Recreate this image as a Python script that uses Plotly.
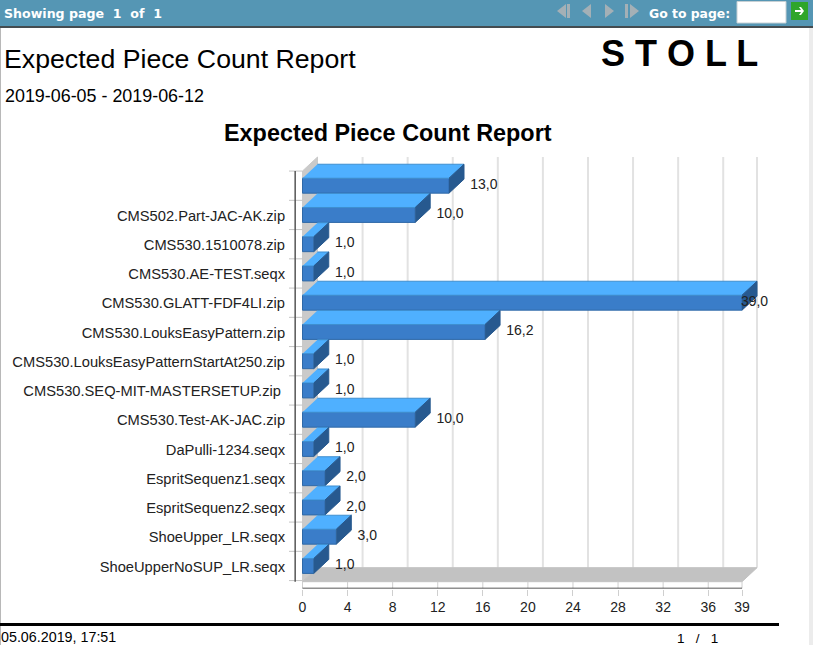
import plotly.graph_objects as go

categories = ["", "CMS502.Part-JAC-AK.zip", "CMS530.1510078.zip", "CMS530.AE-TEST.seqx",
              "CMS530.GLATT-FDF4LI.zip", "CMS530.LouksEasyPattern.zip",
              "CMS530.LouksEasyPatternStartAt250.zip", "CMS530.SEQ-MIT-MASTERSETUP.zip ",
              "CMS530.Test-AK-JAC.zip", "DaPulli-1234.seqx", "EspritSequenz1.seqx",
              "EspritSequenz2.seqx", "ShoeUpper_LR.seqx", "ShoeUpperNoSUP_LR.seqx"]
values = [13.0, 10.0, 1.0, 1.0, 39.0, 16.2, 1.0, 1.0, 10.0, 1.0, 2.0, 2.0, 3.0, 1.0]
labels = ["13,0", "10,0", "1,0", "1,0", "39,0", "16,2", "1,0", "1,0", "10,0", "1,0", "2,0", "2,0", "3,0", "1,0"]
x_ticks = [0, 4, 8, 12, 16, 20, 24, 28, 32, 36, 39]

W, H = 813, 645
X0, PXU = 302.5, 11.27      # pixel of value 0, pixels per unit
Y0, PYU = 185.7, 29.25      # pixel of row 0, pixels per row
L, T, B = 289, 150, 588.5   # plot-area box
DX, DY = 15 / PXU, 14 / PYU # 3D depth in axis units
BH = 0.51
XMAX = 39
rows = list(range(len(values)))
row_top = -0.5
row_bot = len(values) - 0.5
floor_y = (581.7 - Y0) / PYU
wall_top = floor_y - (581.7 - 157) / PYU

GREY_WALL, GREY_FLOOR, GRID = "#cacaca", "#c2c2c2", "#e2e2e2"
FRONT, FRONT_LINE, TOP, SIDE = "#3a7dc9", "#2f69a8", "#4fb0ff", "#27598f"
FONT = "Liberation Sans"
HEADER_FONT = "DejaVu Sans"

fig = go.Figure()
shapes = []

def data_path(xs, ys, fill=None, color=None, width=1):
    d = "M " + " L ".join(f"{x:.4f},{y:.4f}" for x, y in zip(xs, ys))
    if fill:
        d += " Z"
    shapes.append(dict(type="path", xref="x", yref="y", path=d, fillcolor=fill, layer="below",
                       line=dict(color=color or fill, width=width)))

def poly(xs, ys, fill, line=None):
    fig.add_trace(go.Scatter(x=xs, y=ys, mode="lines", fill="toself", fillcolor=fill,
                             line=dict(color=line or fill, width=1), hoverinfo="skip", showlegend=False))

def lines(xs, ys, color, width):
    fig.add_trace(go.Scatter(x=xs, y=ys, mode="lines", line=dict(color=color, width=width),
                             hoverinfo="skip", showlegend=False, cliponaxis=False))

# left wall, back-wall grid and floor sit beneath every bar
data_path([0, DX, DX, 0], [floor_y, floor_y - DY, wall_top, wall_top + DY], GREY_WALL)
for t in x_ticks[1:]:
    data_path([t + DX, t + DX], [floor_y - DY, wall_top], color=GRID, width=2)
data_path([0, XMAX, XMAX + DX, DX], [floor_y, floor_y, floor_y - DY, floor_y - DY], GREY_FLOOR)

# bars
fig.add_trace(go.Bar(x=values, y=rows, orientation="h", width=BH,
                     marker=dict(color=FRONT, line=dict(color=FRONT_LINE, width=1)),
                     hoverinfo="skip", showlegend=False))
for r, v in zip(rows, values):
    top_y = r - BH / 2
    bot_y = r + BH / 2
    poly([0, v, v + DX, DX], [top_y, top_y, top_y - DY, top_y - DY], TOP, "#3f8fd0")
    poly([v, v + DX, v + DX, v], [top_y, top_y - DY, bot_y - DY, bot_y], SIDE)

# axes decoration
tx, ty = [], []
for i in range(len(values) + 1):
    tx += [-1.2, 0, None]
    ty += [i - 0.5, i - 0.5, None]
lines(tx, ty, "#c4c4c4", 1)
lines([-0.65, -0.65], [row_top, floor_y], "#555555", 1.5)
fx, fy = [], []
for t in x_ticks:
    fx += [t, t, None]
    fy += [floor_y, (B - Y0) / PYU, None]
lines(fx, fy, "#cfcfcf", 1)
lines([0, XMAX], [(B - Y0) / PYU] * 2, "#222222", 1.5)

# value labels
label_x = [v + DX + 0.55 for v in values]
label_x[4] = 38.9
fig.add_trace(go.Scatter(x=label_x, y=[r - 0.01 for r in rows], mode="text", text=labels,
                         textposition="middle right",
                         textfont=dict(family=FONT, size=14, color="#222222"),
                         hoverinfo="skip", showlegend=False, cliponaxis=False))

fig.update_xaxes(domain=[L / W, 1], range=[(L - X0) / PXU, (W - X0) / PXU],
                 tickmode="array", tickvals=x_ticks, ticktext=[str(t) for t in x_ticks],
                 showgrid=False, zeroline=False, showline=False,
                 ticks="outside", ticklen=6, tickcolor="#cfcfcf", tickwidth=1,
                 tickfont=dict(family=FONT, size=14, color="#222222"))
fig.update_yaxes(domain=[1 - B / H, 1 - T / H],
                 range=[(B - Y0) / PYU, (T - Y0) / PYU],
                 tickmode="array", tickvals=[r + 0.02 for r in rows], ticktext=categories,
                 showgrid=False, zeroline=False, showline=False,
                 ticks="outside", ticklen=0, tickcolor="rgba(0,0,0,0)",
                 tickfont=dict(family=FONT, size=14.7, color="#222222"))

def rect(x0, y0, x1, y1, fill, line=None):
    shapes.append(dict(type="rect", xref="paper", yref="paper", x0=x0 / W, x1=x1 / W,
                       y0=1 - y0 / H, y1=1 - y1 / H, fillcolor=fill,
                       line=dict(width=1 if line else 0, color=line or fill), layer="below"))
def path(pts, fill):
    d = "M " + " L ".join(f"{x / W:.5f},{1 - y / H:.5f}" for x, y in pts) + " Z"
    shapes.append(dict(type="path", xref="paper", yref="paper", path=d, fillcolor=fill,
                       line=dict(width=0), layer="above"))

rect(0, 0, W, 26, "#5596b4")
rect(0, 26, W, 28, "#444c50")
rect(0, 28, 1, H, "#b8b8b8")
rect(809, 28, W, H, "#ececec")
rect(737, 1.5, 786, 23, "#ffffff", "#c6d0d4")
rect(791, 2, 808, 20, "#2fa52a")
rect(0, 623, 779, 626, "#000000")
ICON = "#a4b0b6"
path([(566, 4), (557, 11), (566, 18)], ICON); rect(567, 4, 570, 18, ICON)
path([(591, 4), (582, 11), (591, 18)], ICON)
path([(605, 4), (614, 11), (605, 18)], ICON)
rect(625, 4, 628, 18, ICON); path([(630, 4), (639, 11), (630, 18)], ICON)
path([(795, 10), (801, 10), (799, 7), (801, 7), (804, 11), (801, 15), (799, 15), (801, 12), (795, 12)], "#ffffff")

def note(x, y, text, size, bold=False, color="#000000", anchor="left", family=FONT):
    return dict(xref="paper", yref="paper", x=x / W, y=1 - y / H, xanchor=anchor, yanchor="middle",
                text=f"<b>{text}</b>" if bold else text, showarrow=False,
                font=dict(family=family, size=size, color=color))

fig.update_layout(
    width=W, height=H, margin=dict(l=0, r=0, t=0, b=0), autosize=False,
    paper_bgcolor="#ffffff", plot_bgcolor="rgba(0,0,0,0)", showlegend=False, barmode="overlay",
    shapes=shapes,
    annotations=[
        note(1.5, 13, "Showing page&nbsp;&nbsp;1&nbsp;&nbsp;of&nbsp;&nbsp;1", 12.6, True, "#ffffff", family=HEADER_FONT),
        note(647, 13, "Go to page:", 12.4, True, "#ffffff", family=HEADER_FONT),
        note(1.5, 59, "Expected Piece Count Report", 26.7),
        note(3, 96.5, "2019-06-05 - 2019-06-12", 17.9),
        note(599, 53, "S T O L L", 36, True),
        note(388, 133, "Expected Piece Count Report", 23.4, True, anchor="center"),
        note(-1, 637, "05.06.2019, 17:51", 14.3),
        note(675, 638, "1&nbsp;&nbsp;&nbsp;/&nbsp;&nbsp;&nbsp;1", 13.5),
    ],
)
fig.write_html("out.html", config=dict(displayModeBar=False),
               post_script="document.body.style.margin='0';document.documentElement.style.overflow='hidden';")
